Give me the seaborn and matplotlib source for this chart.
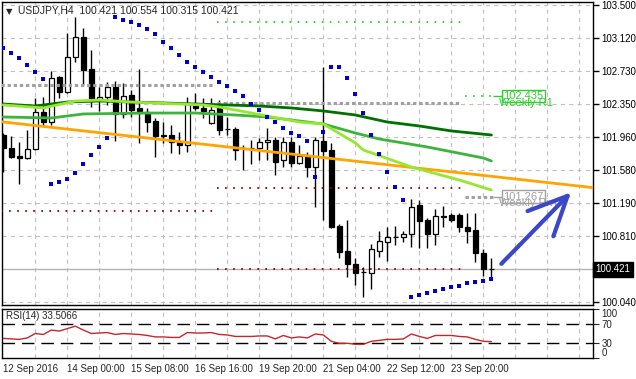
import numpy as np
import pandas as pd
import matplotlib
matplotlib.use("Agg")
import matplotlib.pyplot as plt
import matplotlib.transforms as mtransforms
import seaborn as sns

# ---- candles (H4 bars, left to right) ----
opens = [101.985, 101.834, 101.740, 101.717, 101.822, 102.253, 102.136, 102.661, 102.486, 102.894,
         103.127, 102.754, 102.393, 102.428, 102.544, 102.230, 102.451, 102.300, 102.253, 102.148,
         101.985, 101.985, 101.903, 101.868, 102.358, 102.300, 102.125, 102.323, 102.055, 102.055,
         101.834, 101.834, 101.834, 101.903, 101.927, 101.693, 101.903, 101.658, 101.740, 101.612,
         101.915, 101.810, 100.924, 100.633, 100.481, 100.388, 100.376, 100.633, 100.738, 100.796,
         100.796, 100.831, 101.169, 100.994, 100.831, 101.041, 101.052, 101.052, 100.913, 100.878,
         100.610, 100.421]
highs = [102.008, 101.973, 101.903, 102.043, 102.416, 102.428, 102.731, 102.673, 103.174, 103.360,
         103.232, 102.976, 102.544, 102.603, 102.614, 102.591, 102.509, 102.754, 102.300, 102.183,
         102.136, 102.101, 102.020, 102.428, 102.474, 102.416, 102.416, 102.393, 102.195, 102.078,
         101.868, 101.927, 101.950, 102.066, 101.962, 101.962, 101.962, 101.868, 101.787, 101.962,
         102.777, 101.892, 100.948, 100.994, 100.551, 100.446, 100.714, 100.866, 100.913, 100.924,
         100.866, 101.239, 101.227, 101.017, 101.122, 101.157, 101.076, 101.076, 101.076, 101.076,
         100.656, 100.554]
lows = [101.554, 101.717, 101.414, 101.705, 101.810, 102.090, 102.101, 102.416, 102.474, 102.836,
        102.568, 102.311, 102.265, 102.335, 101.915, 102.183, 102.195, 101.892, 102.020, 101.728,
        101.892, 101.775, 101.763, 101.787, 102.276, 102.183, 102.113, 101.985, 101.985, 101.693,
        101.577, 101.647, 101.693, 101.693, 101.519, 101.612, 101.612, 101.647, 101.495, 101.146,
        100.994, 100.900, 100.551, 100.330, 100.237, 100.097, 100.190, 100.563, 100.516, 100.703,
        100.738, 100.679, 100.668, 100.668, 100.703, 100.913, 100.971, 100.854, 100.726, 100.505,
        100.341, 100.315]
closes = [101.834, 101.728, 101.717, 101.822, 102.253, 102.136, 102.649, 102.486, 102.894, 103.127,
          102.742, 102.393, 102.428, 102.544, 102.230, 102.439, 102.276, 102.265, 102.136, 101.973,
          101.978, 101.903, 101.868, 102.358, 102.300, 102.265, 102.276, 102.043, 102.049, 101.810,
          101.828, 101.830, 101.903, 101.927, 101.670, 101.903, 101.658, 101.740, 101.612, 101.927,
          101.798, 100.913, 100.621, 100.481, 100.376, 100.392, 100.656, 100.749, 100.796, 100.794,
          100.831, 101.146, 100.983, 100.831, 101.041, 101.029, 100.994, 100.913, 100.866, 100.610,
          100.421, 100.421]
bars = list(range(len(closes)))

# ---- parabolic SAR ----
sar = [102.999, 102.941, 102.882, 102.801, 102.719, 102.638, 101.414, 101.437, 101.472, 101.542,
       101.647, 101.752, 101.845, 101.950, 103.360, 103.325, 103.302, 103.267, 103.220, 103.162,
       103.069, 102.999, 102.917, 102.836, 102.777, 102.719, 102.661, 102.603, 102.556, 102.498,
       102.439, 102.346, 102.276, 102.195, 102.136, 102.066, 102.008, 101.973, 101.915, 101.495,
       102.020, 102.777, 102.777, 102.649, 102.463, 102.241, 101.985, 101.763, 101.554, 101.379,
       101.227, 100.097, 100.120, 100.143, 100.167, 100.190, 100.214, 100.225, 100.260, 100.272,
       100.283, 100.307]

# ---- moving averages (read at selected bars) ----
ma_dark_bars = [0, 4, 8, 12, 16, 20, 24, 28, 32, 36, 40, 44, 48, 52, 56, 61]
ma_dark = [102.346, 102.323, 102.369, 102.381, 102.369, 102.358, 102.346, 102.335, 102.323, 102.300,
           102.265, 102.218, 102.136, 102.090, 102.032, 101.985]
ma_mid_bars = [0, 6, 10, 18, 24, 29, 33, 37, 40, 44, 47, 53, 60, 61]
ma_mid = [102.195, 102.183, 102.230, 102.241, 102.241, 102.218, 102.195, 102.148, 102.113, 102.008,
          101.938, 101.845, 101.717, 101.682]
ma_light_bars = [0, 5, 9, 12, 16, 25, 27, 29, 33, 37, 40, 44, 45, 51, 57, 61]
ma_light = [102.335, 102.300, 102.381, 102.393, 102.369, 102.335, 102.311, 102.276, 102.206, 102.136,
            102.113, 101.892, 101.810, 101.612, 101.460, 101.344]

# ---- trend line ----
trend_bars = [-1, 75]
trend_prices = [102.147, 101.358]

# ---- weekly pivot levels ----
week_first = [0, 27, 58]
week_last = [26, 57, 61]
week_r1 = [None, 103.302, 102.435]
week_pivot = [102.568, 102.358, 101.267]
week_s1 = [101.099, 101.367, None]
week_s2 = [None, 100.423, None]

# ---- RSI(14) ----
rsi = [40, 39, 38, 41, 50, 48, 57, 55, 60, 65, 57, 50, 51, 52, 48, 50, 49, 48, 46, 43,
       43, 42, 42, 52, 51, 51, 52, 48, 47, 44, 44, 44, 45, 45, 39, 46, 41, 43, 41, 49,
       47, 34, 30, 30, 28, 28, 34, 36, 38, 38, 39, 49, 44, 40, 46, 46, 46, 44, 43, 38,
       34, 33.5066]

price_ticks = [100.040, 100.810, 101.190, 101.580, 101.960, 102.350, 102.730, 103.120, 103.500]
date_bars = [0, 8, 16, 24, 32, 40, 48, 56]
date_labels = ['12 Sep 2016', '14 Sep 00:00', '15 Sep 08:00', '16 Sep 16:00',
               '19 Sep 20:00', '21 Sep 04:00', '22 Sep 12:00', '23 Sep 20:00']

sns.set_style('white')
plt.rcParams['font.family'] = ['Liberation Sans', 'DejaVu Sans']
plt.rcParams['lines.scale_dashes'] = False

fig = plt.figure(figsize=(6.36, 3.79), dpi=100)
ax = fig.add_axes([2 / 636, 74 / 379, 591 / 636, 303 / 379])
ax_r = fig.add_axes([2 / 636, 21 / 379, 591 / 636, 49 / 379])

xmin, xmax = -0.16, 73.7
grid_c = '#C0C0C0'
for a in (ax, ax_r):
    a.set_xlim(xmin, xmax)
    for b in range(4, 74, 4):
        a.axvline(b, color=grid_c, lw=0.8, ls=(0, (3, 3)), zorder=0)
    for s in a.spines.values():
        s.set_color('black')
        s.set_linewidth(1)

# main panel
ax.set_ylim(100.0035, 103.535)
for p in price_ticks:
    ax.axhline(p, color=grid_c, lw=0.8, ls=(0, (3, 3)), zorder=0)
ax.axhline(closes[-1], color='#B4B4B4', lw=1, zorder=1)

df = pd.DataFrame({'bar': bars, 'open': opens, 'high': highs, 'low': lows, 'close': closes})
up = df['close'] >= df['open']
body_lo = df[['open', 'close']].min(axis=1)
body_h = (df['close'] - df['open']).abs().clip(lower=0.005)
ax.vlines(df['bar'], df['low'], df['high'], color='black', lw=1, zorder=2)
ax.bar(df['bar'], body_h, bottom=body_lo, width=0.6,
       color=np.where(up, 'white', 'black'), edgecolor='black', lw=0.9, zorder=3)

sns.lineplot(x=trend_bars, y=trend_prices, ax=ax, color='#FFA500', lw=2, zorder=4)
sns.lineplot(x=ma_dark_bars, y=ma_dark, ax=ax, color='#006E00', lw=2, zorder=5)
sns.lineplot(x=ma_mid_bars, y=ma_mid, ax=ax, color='#3CB43C', lw=2, zorder=5)
sns.lineplot(x=ma_light_bars, y=ma_light, ax=ax, color='#96E632', lw=2, zorder=5)
sns.scatterplot(x=bars, y=sar, ax=ax, color='#0000C8', marker='s', s=7, linewidth=0, zorder=6)

green, gray, red = '#32CD32', '#A0A0A0', '#8B0000'
for k in range(len(week_first)):
    x0, x1 = week_first[k] - 0.3, week_last[k] + 0.2
    if week_r1[k] is not None:
        ax.hlines(week_r1[k], x0, x1, color=green, lw=1.3, ls=(0, (1.2, 4.6)), zorder=4)
    ax.hlines(week_pivot[k], x0, x1, color=gray, lw=2.2, ls=(0, (2.4, 2.0)), zorder=4)
    if week_s1[k] is not None:
        ax.hlines(week_s1[k], x0, x1, color=red, lw=1.3, ls=(0, (1.2, 4.6)), zorder=4)
    if week_s2[k] is not None:
        ax.hlines(week_s2[k], x0, x1, color=red, lw=1.3, ls=(0, (1.2, 4.6)), zorder=4)

ax.hlines(week_r1[2], week_last[2] + 0.2, week_last[2] + 1.4, color=green, lw=1, zorder=4)
ax.hlines(week_pivot[2], week_last[2] + 0.2, week_last[2] + 1.4, color=gray, lw=1, zorder=4)
ax.text(week_last[2] + 1.5, week_r1[2], '%.3f' % week_r1[2], color=green, fontsize=8,
        va='center', ha='left', zorder=7,
        bbox=dict(fc='white', ec=green, lw=1, boxstyle='square,pad=0.1'))
ax.text(week_last[2] + 1.0, week_r1[2] - 0.08, 'Weekly R1', color=green, fontsize=8,
        va='center', ha='left', zorder=8)
ax.text(week_last[2] + 1.5, week_pivot[2], '%.3f' % week_pivot[2], color=gray, fontsize=8,
        va='center', ha='left', zorder=7,
        bbox=dict(fc='white', ec=gray, lw=1, boxstyle='square,pad=0.1'))
ax.text(week_last[2] + 1.0, week_pivot[2] - 0.08, 'Weekly Pivot', color=gray, fontsize=8,
        va='center', ha='left', zorder=8)

# drawn arrow towards the trend line
ax.annotate('', xy=(71.2, 101.34), xytext=(62.0, 100.46),
            arrowprops=dict(arrowstyle='->,head_length=2.8,head_width=1.3',
                            color='#3C46C8', lw=3, mutation_scale=10), zorder=9)

ax.yaxis.tick_right()
ax.set_yticks(price_ticks)
ax.set_yticklabels(['%.3f' % p for p in price_ticks], fontsize=7)
ax.tick_params(axis='y', length=4, width=1, pad=2, colors='black', direction='out')
ax.set_xticks([])
ax.set_xlabel('')
ax.set_ylabel('')
trans = mtransforms.blended_transform_factory(ax.transAxes, ax.transData)
ax.text(1.004, closes[-1], '%.3f' % closes[-1], transform=trans, color='white', fontsize=7,
        va='center', ha='left', bbox=dict(fc='black', ec='black', boxstyle='square,pad=0.25'),
        zorder=10, clip_on=False)
ax.text(0.006, 0.985, '\u25bc', transform=ax.transAxes, fontsize=6, va='top', ha='left',
        family=['DejaVu Sans'])
ax.text(0.027, 0.988, 'USDJPY,H4  %.3f %.3f %.3f %.3f' % (opens[-1], highs[-1], lows[-1], closes[-1]),
        transform=ax.transAxes, fontsize=7.5, va='top', ha='left')

# RSI panel
ax_r.set_ylim(0, 100)
for lvl in (70, 30):
    ax_r.axhline(lvl, color='black', lw=1, ls=(0, (9, 5)), zorder=1)
sns.lineplot(x=bars, y=rsi, ax=ax_r, color='#C0282D', lw=1, zorder=3)
ax_r.yaxis.tick_right()
ax_r.set_yticks([100, 70, 30, 0])
ax_r.set_yticklabels(['100', '70', '30', '0'], fontsize=7)
ylabs = ax_r.get_yticklabels()
ylabs[0].set_va('top')
ylabs[-1].set_va('bottom')
ax_r.tick_params(axis='y', length=4, pad=2, direction='out')
ax_r.set_xticks(date_bars)
ax_r.set_xticklabels(date_labels, fontsize=7, ha='left')
ax_r.tick_params(axis='x', length=3, pad=1, direction='out')
ax_r.set_xlabel('')
ax_r.set_ylabel('')
ax_r.text(0.006, 0.95, 'RSI(14) %.4f' % rsi[-1], transform=ax_r.transAxes, fontsize=7,
          va='top', ha='left')

fig.savefig('out.png', dpi=100)
